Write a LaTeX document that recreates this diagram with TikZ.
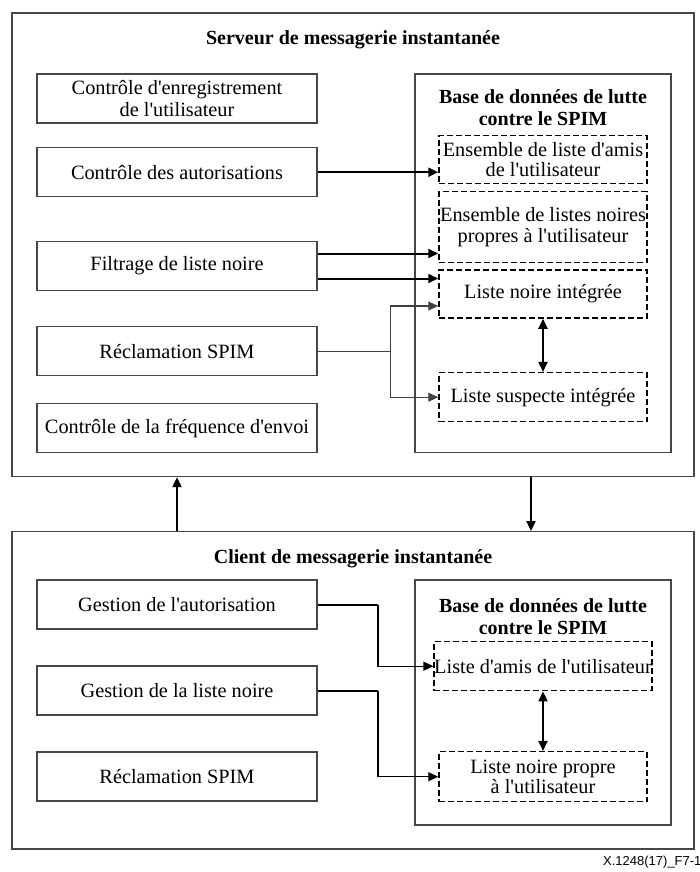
\documentclass[tikz,border=0pt]{standalone}
\usepackage{fontspec}
\setmainfont{Liberation Serif}[Ligatures=TeXOff]
\newfontfamily\footfont{Liberation Sans}
\usetikzlibrary{arrows.meta}
\begin{document}
\begin{tikzpicture}[x=1pt,y=-1pt,
  every node/.style={inner sep=0pt, font=\fontsize{20.3pt}{21.7pt}\selectfont},
  frame/.style={draw=black!72, line width=1.3pt},
  lbox/.style={frame, minimum width=280pt, minimum height=49pt, align=center},
  dbox/.style={draw=black, dash pattern=on 6pt off 3pt, line width=1.5pt, minimum width=208pt, align=center,
    font=\fontsize{20.3pt}{20.5pt}\selectfont},
  ttl/.style={font=\bfseries\fontsize{20pt}{22pt}\selectfont, align=center},
  conn/.style={draw=black, line width=2pt},
  thinconn/.style={draw=black!75, line width=1.1pt},
  tip/.style={-{Triangle[length=10pt,width=9pt]}},
  dtip/.style={{Triangle[length=10pt,width=9pt]}-{Triangle[length=10pt,width=9pt]}}
]
\useasboundingbox (0,0) rectangle (700,872);

% ---------------- server ----------------
\node[frame, minimum width=682pt, minimum height=463.5pt] (srv) at (353,244.75) {};
\node[ttl] (srvt) at (353,40) {Serveur de messagerie instantanée};

\node[lbox] (b1) at (177,98.5) {Contrôle d'enregistrement\\de l'utilisateur};
\node[lbox] (b2) at (177,172.2) {Contrôle des autorisations};
\node[lbox] (b3) at (177,266) {Filtrage de liste noire};
\node[lbox] (b4) at (177,351.3) {Réclamation SPIM};
\node[lbox] (b5) at (177,428.3) {Contrôle de la fréquence d'envoi};

\node[frame, minimum width=256pt, minimum height=378.7pt] (db) at (543,263.35) {};
\node[ttl] (dbt) at (543,108) {Base de données de lutte\\contre le SPIM};

\node[dbox, minimum height=48pt] (A) at (543,159.5) {Ensemble de liste d'amis\\de l'utilisateur};
\node[dbox, minimum height=71pt] (B) at (543,227.2) {Ensemble de listes noires\\propres à l'utilisateur};
\node[dbox, minimum height=48pt] (C) at (543,294) {Liste noire intégrée};
\node[dbox, minimum height=49pt] (D) at (543,397.2) {Liste suspecte intégrée};

\draw[conn, tip] (b2.east) -- (b2.east -| A.west);
\coordinate (f1) at ([yshift=12.5pt]b3.east);
\coordinate (f2) at ([yshift=-12.5pt]b3.east);
\draw[conn, tip] (f1) -- (f1 -| B.west);
\draw[conn, tip] (f2) -- (f2 -| C.west);

\coordinate (jx) at (390.6,0);
\coordinate (cin) at ([yshift=-12pt]C.west);
\draw[thinconn] (b4.east) -- (b4.east -| jx) coordinate (j);
\draw[thinconn, tip] (j) |- (cin);
\draw[thinconn, tip] (j) |- (D.west);

\draw[conn, dtip] (C.south) -- (D.north);

% ---------------- client ----------------
\node[frame, minimum width=682pt, minimum height=317.3pt] (cli) at (353,690.35) {};
\node[ttl] (clit) at (353,559) {Client de messagerie instantanée};

\node[lbox] (g1) at (177,604.5) {Gestion de l'autorisation};
\node[lbox] (g2) at (177,690.5) {Gestion de la liste noire};
\node[lbox] (g3) at (177,776.35) {Réclamation SPIM};

\node[frame, minimum width=256pt, minimum height=245pt] (cdb) at (543,702.5) {};
\node[ttl] (cdbt) at (543,617) {Base de données de lutte\\contre le SPIM};

\node[dbox, minimum height=49pt] (E) at (543,666.2) {Liste d'amis de l'utilisateur};
\node[dbox, minimum height=50pt] (F) at (543,776.7) {Liste noire propre\\à l'utilisateur};

\coordinate (cx) at (378,0);
\draw[conn] (g1.east) -- (g1.east -| cx) coordinate (k1);
\draw[thinconn, draw=black, tip] (k1) |- (E.west);
\draw[conn] (g2.east) -- (g2.east -| cx) coordinate (k2);
\draw[thinconn, draw=black, tip] (k2) |- (F.west);

\draw[conn, dtip] (E.south) -- (F.north);

% ---------------- between ----------------
\coordinate (rx) at (531,0);
\draw[conn, tip] (cli.north -| g1) -- (srv.south -| g1);
\draw[conn, tip] (srv.south -| rx) -- (cli.north -| rx);

\node[anchor=west, font=\footfont\fontsize{13pt}{15pt}\selectfont] (foot) at (603,862) {X.1248(17)\_F7-1};
\end{tikzpicture}
\end{document}
